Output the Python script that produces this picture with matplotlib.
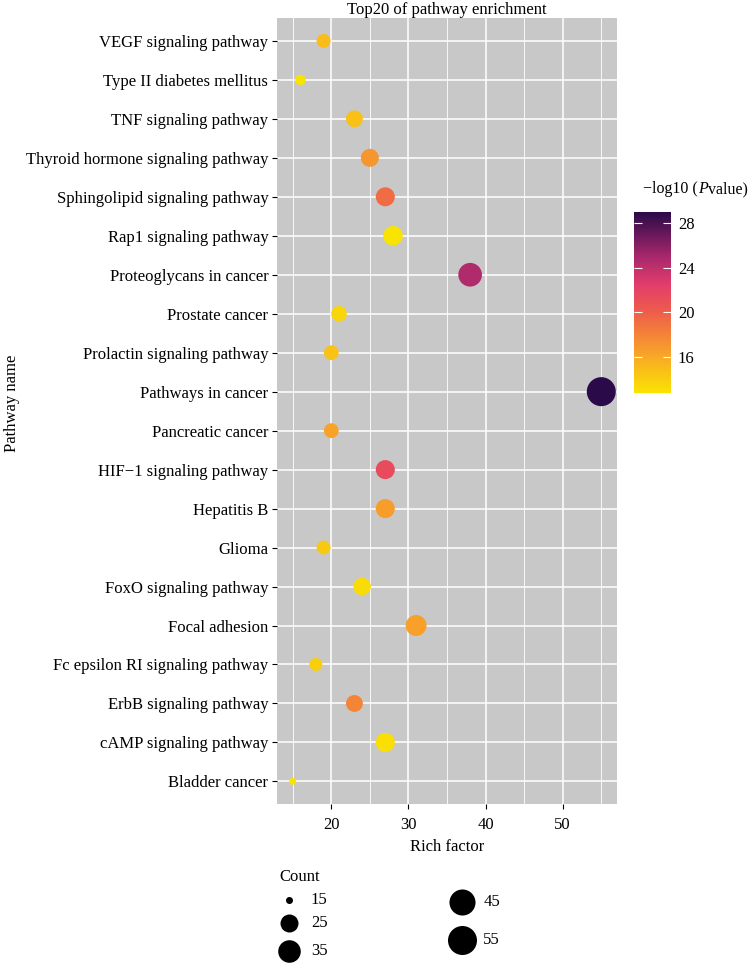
import numpy as np
import matplotlib
matplotlib.use("Agg")
import matplotlib.pyplot as plt
from matplotlib.colors import LinearSegmentedColormap, Normalize

plt.rcParams['font.family'] = ['Liberation Serif', 'DejaVu Serif']

# ---------------- data ----------------
pathways = ["VEGF signaling pathway", "Type II diabetes mellitus", "TNF signaling pathway",
            "Thyroid hormone signaling pathway", "Sphingolipid signaling pathway",
            "Rap1 signaling pathway", "Proteoglycans in cancer", "Prostate cancer",
            "Prolactin signaling pathway", "Pathways in cancer", "Pancreatic cancer",
            "HIF\u22121 signaling pathway", "Hepatitis B", "Glioma", "FoxO signaling pathway",
            "Focal adhesion", "Fc epsilon RI signaling pathway", "ErbB signaling pathway",
            "cAMP signaling pathway", "Bladder cancer"]
rich_factor = [19, 16, 23, 25, 27, 28, 38, 21, 20, 55, 20, 27, 27, 19, 24, 31, 18, 23, 27, 15]
counts      = [19, 16, 23, 25, 27, 28, 38, 21, 20, 55, 20, 27, 27, 19, 24, 31, 18, 23, 27, 15]
neglog10p   = [15.0, 12.9, 14.7, 17.0, 19.2, 12.9, 24.6, 13.6, 14.6, 29.0, 16.3, 21.3,
               16.6, 14.3, 13.3, 16.5, 14.0, 17.9, 13.0, 12.8]
x_ticks = [20, 30, 40, 50]
cbar_ticks = [16, 20, 24, 28]
legend_counts = [15, 25, 35, 45, 55]

# ---------------- styles ----------------
W, H = 755, 965
FS = 12
fig = plt.figure(figsize=(W / 100, H / 100), dpi=100)

cmap = LinearSegmentedColormap.from_list("pv", [
    (0.00, "#F9E400"),
    (0.20, "#F9A826"),
    (0.45, "#EE5C4C"),
    (0.60, "#E23D6B"),
    (0.75, "#A8286C"),
    (1.00, "#2A0A48"),
])
norm = Normalize(vmin=min(neglog10p), vmax=max(neglog10p))

cmin, cmax = min(counts), max(counts)
dmin_px, dmax_px = 7.0, 29.0


def size_of(c):
    c = np.asarray(c, dtype=float)
    d = dmin_px + (dmax_px - dmin_px) * np.sqrt((c - cmin) / (cmax - cmin))
    return (d * 0.72) ** 2


def fx(px):
    return px / W


def fy(py):
    return 1 - py / H


# main panel
pl, pr, pt, pb = 277.3, 616.7, 18.3, 804.0
ax = fig.add_axes([fx(pl), fy(pb), fx(pr - pl), (pb - pt) / H])
ax.set_facecolor("#C8C8C8")
n = len(pathways)
ypos = np.arange(n)[::-1]  # first item on top
ax.scatter(rich_factor, ypos, s=size_of(counts), c=neglog10p, cmap=cmap, norm=norm,
           linewidths=0, zorder=3)
ax.set_yticks(ypos)
ax.set_yticklabels(pathways, fontsize=FS)
ax.set_ylim(-0.58, n - 1 + 0.58)
xr = max(rich_factor) - min(rich_factor)
ax.set_xlim(min(rich_factor) - 0.05 * xr, max(rich_factor) + 0.05 * xr)
ax.set_xticks(x_ticks)
ax.set_xticklabels([str(t) for t in x_ticks], fontsize=FS)
ax.set_xticks([t + 5 for t in [10] + x_ticks], minor=True)
ax.grid(True, which="major", color="white", linewidth=1.1, zorder=1)
ax.grid(True, which="minor", axis="x", color="white", linewidth=0.6, zorder=1)
ax.set_axisbelow(True)
for s in ax.spines.values():
    s.set_visible(False)
ax.tick_params(axis="both", which="major", length=3.5, width=0.8, color="black", pad=3)
ax.tick_params(axis="x", which="major", pad=6)
ax.tick_params(axis="x", which="minor", length=0)
ax.set_xlabel("Rich factor", fontsize=FS, labelpad=4)
ax.set_title("Top20 of pathway enrichment", fontsize=FS, pad=3)
fig.text(fx(12), fy(403), "Pathway name", fontsize=FS, rotation=90, ha="center", va="center")

# colorbar
cl, cr, ct, cb = 634.0, 671.0, 211.7, 393.0
cax = fig.add_axes([fx(cl), fy(cb), fx(cr - cl), (cb - ct) / H])
sm = matplotlib.cm.ScalarMappable(norm=norm, cmap=cmap)
cbar = fig.colorbar(sm, cax=cax, ticks=cbar_ticks)
cbar.outline.set_visible(False)
cax.tick_params(direction="in", color="white", length=6, width=0.8, left=True, right=True,
                labelsize=FS, pad=5)

fig.canvas.draw()
renderer = fig.canvas.get_renderer()
parts = [("\u2212log10 (", "normal"), ("P", "italic"), ("value)", "normal")]
xcur = 643.0
for txt, st in parts:
    tobj = fig.text(fx(xcur), fy(189), txt, fontsize=11.5, ha="left", va="center", style=st)
    bb = tobj.get_window_extent(renderer=renderer)
    xcur += bb.width

# size legend
lax = fig.add_axes([0, 0, 1, 1])
lax.set_xlim(0, W)
lax.set_ylim(H, 0)
lax.axis("off")
lax.text(279, 877, "Count", fontsize=FS, ha="left", va="center")
key_pos = [(289.3, 900), (289.3, 922.7), (289.3, 951), (461.7, 902.3), (461.7, 940)]
for c, (kx, ky) in zip(legend_counts, key_pos):
    lax.scatter([kx], [ky], s=size_of([c]), color="black", linewidths=0)
    lax.text(kx + 21.5, ky, str(c), fontsize=FS, ha="left", va="center")

fig.savefig("out.png", dpi=100)
